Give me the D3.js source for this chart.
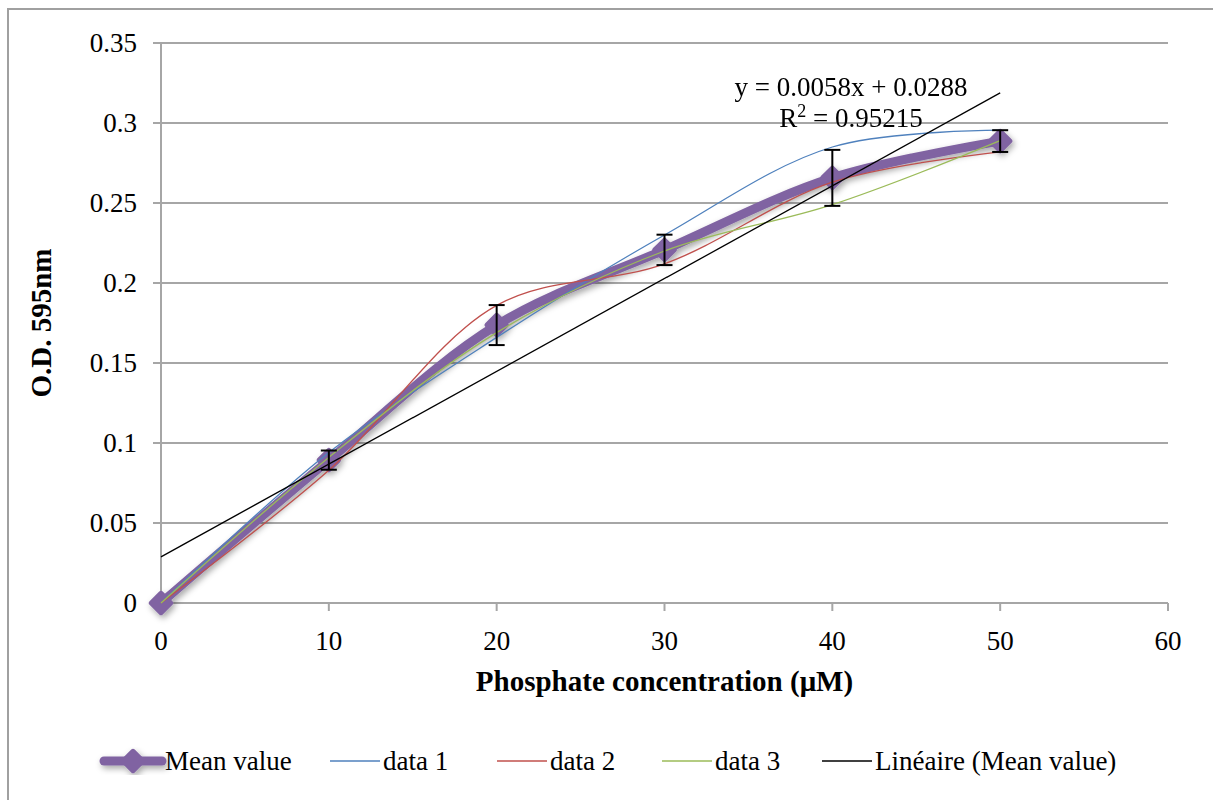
<!DOCTYPE html>
<html>
<head>
<meta charset="utf-8">
<script src="https://cdn.jsdelivr.net/npm/d3@7"></script>
<style>
  html, body { margin: 0; padding: 0; background: #fff; }
  svg { display: block; font-family: "Liberation Serif", serif; }
</style>
</head>
<body>
<div id="chart"></div>
<script>
// Phosphate calibration curve (OD 595nm)

const concentrations = [0, 10, 20, 30, 40, 50];
const meanValues = [0, 0.0893, 0.1737, 0.2207, 0.2657, 0.2887];
const meanErrors = [0, 0.006, 0.0125, 0.0095, 0.0175, 0.0068];
const data1 = [0, 0.094, 0.166, 0.230, 0.285, 0.2955];
const data2 = [0, 0.083, 0.186, 0.212, 0.263, 0.282];
const data3 = [0, 0.091, 0.169, 0.220, 0.249, 0.289];

const xTicks = [0, 10, 20, 30, 40, 50, 60];
const yTicks = [0, 0.05, 0.1, 0.15, 0.2, 0.25, 0.3, 0.35];

const trendSlope = 0.0058;
const trendIntercept = 0.0288;
const trendLabel = 'y = 0.0058x + 0.0288';
const r2Label = '0.95215';

const W = 1213, H = 800;
const FONT = 27;

const x = d3.scaleLinear().domain([0, 60]).range([161, 1168]);
const y = d3.scaleLinear().domain([0, 0.35]).range([603, 43]);

const svg = d3.select('#chart').append('svg')
  .attr('width', W).attr('height', H).attr('viewBox', `0 0 ${W} ${H}`);

// shadow for the mean series
const defs = svg.append('defs');
const f = defs.append('filter').attr('id', 'shadow')
  .attr('x', '-20%').attr('y', '-20%').attr('width', '140%').attr('height', '140%');
f.append('feDropShadow').attr('dx', 2).attr('dy', 3).attr('stdDeviation', 3)
  .attr('flood-color', '#000').attr('flood-opacity', 0.35);

// chart frame (only left/top visible in the crop)
svg.append('rect')
  .attr('x', 8).attr('y', 9).attr('width', W + 20).attr('height', H + 20)
  .attr('fill', 'none').attr('stroke', '#a0a0a0').attr('stroke-width', 2);

// ─── Grid + axes ─────────────────────────────────────────────────────────────
const gridC = '#a6a6a6';

svg.append('g').selectAll('line').data(yTicks).join('line')
  .attr('x1', 153).attr('x2', x(60))
  .attr('y1', d => y(d)).attr('y2', d => y(d))
  .attr('stroke', gridC).attr('stroke-width', 2);

svg.append('line')
  .attr('x1', x(0)).attr('x2', x(0)).attr('y1', y(0.35)).attr('y2', y(0))
  .attr('stroke', gridC).attr('stroke-width', 2);

svg.append('g').selectAll('line').data(xTicks).join('line')
  .attr('x1', d => x(d)).attr('x2', d => x(d))
  .attr('y1', y(0)).attr('y2', y(0) + 8)
  .attr('stroke', gridC).attr('stroke-width', 2);

svg.append('g').selectAll('text').data(yTicks).join('text')
  .attr('x', 137).attr('y', d => y(d))
  .attr('dy', '0.35em')
  .attr('text-anchor', 'end')
  .attr('font-size', FONT)
  .text(d => d3.format('')(+d.toFixed(2)));

svg.append('g').selectAll('text').data(xTicks).join('text')
  .attr('x', d => x(d)).attr('y', y(0) + 38)
  .attr('dy', '0.35em')
  .attr('text-anchor', 'middle')
  .attr('font-size', FONT)
  .text(d => d);

svg.append('text')
  .attr('x', (x(0) + x(60)) / 2).attr('y', 681)
  .attr('dy', '0.35em')
  .attr('text-anchor', 'middle')
  .attr('font-size', 29).attr('font-weight', 'bold')
  .text('Phosphate concentration (μM)');

svg.append('text')
  .attr('transform', `translate(41,${(y(0) + y(0.35)) / 2}) rotate(-90)`)
  .attr('dy', '0.35em')
  .attr('text-anchor', 'middle')
  .attr('font-size', 29).attr('font-weight', 'bold')
  .text('O.D. 595nm');

// ─── Series ──────────────────────────────────────────────────────────────────
const smooth = d3.line()
  .x((d, i) => x(concentrations[i]))
  .y(d => y(d))
  .curve(d3.curveCatmullRom.alpha(0.5));

const SERIES = [
  { name: 'data 1', values: data1, color: '#4F81BD' },
  { name: 'data 2', values: data2, color: '#C0504D' },
  { name: 'data 3', values: data3, color: '#9BBB59' },
];

// mean (thick purple, drawn first so thin lines sit on top)
const meanG = svg.append('g').attr('filter', 'url(#shadow)');
meanG.append('path')
  .attr('d', smooth(meanValues))
  .attr('fill', 'none').attr('stroke', '#8064A2')
  .attr('stroke-width', 9).attr('stroke-linejoin', 'round').attr('stroke-linecap', 'round');

const diamond = d3.symbol().type(d3.symbolDiamond2).size(240);
meanG.selectAll('path.mk').data(meanValues).join('path')
  .attr('class', 'mk')
  .attr('transform', (d, i) => `translate(${x(concentrations[i])},${y(d)})`)
  .attr('d', diamond)
  .attr('fill', '#8064A2').attr('stroke', '#8064A2')
  .attr('stroke-width', 5).attr('stroke-linejoin', 'round');

for (const s of SERIES) {
  svg.append('path')
    .attr('d', smooth(s.values))
    .attr('fill', 'none').attr('stroke', s.color).attr('stroke-width', 1.3);
}

// error bars
const eb = svg.append('g').attr('stroke', '#000').attr('stroke-width', 2);
meanValues.forEach((m, i) => {
  const e = meanErrors[i];
  if (!e) return;
  const cx = x(concentrations[i]);
  eb.append('line').attr('x1', cx).attr('x2', cx).attr('y1', y(m + e)).attr('y2', y(m - e));
  eb.append('line').attr('x1', cx - 8).attr('x2', cx + 8).attr('y1', y(m + e)).attr('y2', y(m + e));
  eb.append('line').attr('x1', cx - 8).attr('x2', cx + 8).attr('y1', y(m - e)).attr('y2', y(m - e));
});

// linear trendline
svg.append('line')
  .attr('x1', x(0)).attr('y1', y(trendIntercept))
  .attr('x2', x(50)).attr('y2', y(trendIntercept + trendSlope * 50))
  .attr('stroke', '#000').attr('stroke-width', 1.3);

const eq = svg.append('text').attr('font-size', FONT).attr('text-anchor', 'middle');
eq.append('tspan').attr('x', 851).attr('y', 96).text(trendLabel);
const r2 = eq.append('tspan').attr('x', 851).attr('y', 127);
r2.append('tspan').text('R');
r2.append('tspan').attr('font-size', 18).attr('dy', -10).text('2');
r2.append('tspan').attr('dy', 10).text(' = ' + r2Label);

// ─── Legend ──────────────────────────────────────────────────────────────────
const LEG_Y = 761;
const legend = [
  { name: 'Mean value', x0: 104, x1: 162, color: '#8064A2', w: 9, marker: true },
  { name: 'data 1', x0: 330, x1: 380, color: '#4F81BD', w: 1.3 },
  { name: 'data 2', x0: 497, x1: 547, color: '#C0504D', w: 1.3 },
  { name: 'data 3', x0: 662, x1: 712, color: '#9BBB59', w: 1.3 },
  { name: 'Linéaire (Mean value)', x0: 822, x1: 872, color: '#000', w: 1.3 },
];
const lg = svg.append('g');
for (const it of legend) {
  const g = lg.append('g').attr('filter', it.marker ? 'url(#shadow)' : null);
  g.append('line')
    .attr('x1', it.x0).attr('x2', it.x1).attr('y1', LEG_Y).attr('y2', LEG_Y)
    .attr('stroke', it.color).attr('stroke-width', it.w).attr('stroke-linecap', it.marker ? 'round' : 'butt');
  if (it.marker) {
    g.append('path')
      .attr('transform', `translate(${(it.x0 + it.x1) / 2},${LEG_Y})`)
      .attr('d', diamond)
      .attr('fill', it.color).attr('stroke', it.color).attr('stroke-width', 5).attr('stroke-linejoin', 'round');
  }
  lg.append('text')
    .attr('x', it.x1 + 3).attr('y', LEG_Y)
    .attr('dy', '0.35em')
    .attr('font-size', FONT)
    .text(it.name);
}
</script>
</body>
</html>
